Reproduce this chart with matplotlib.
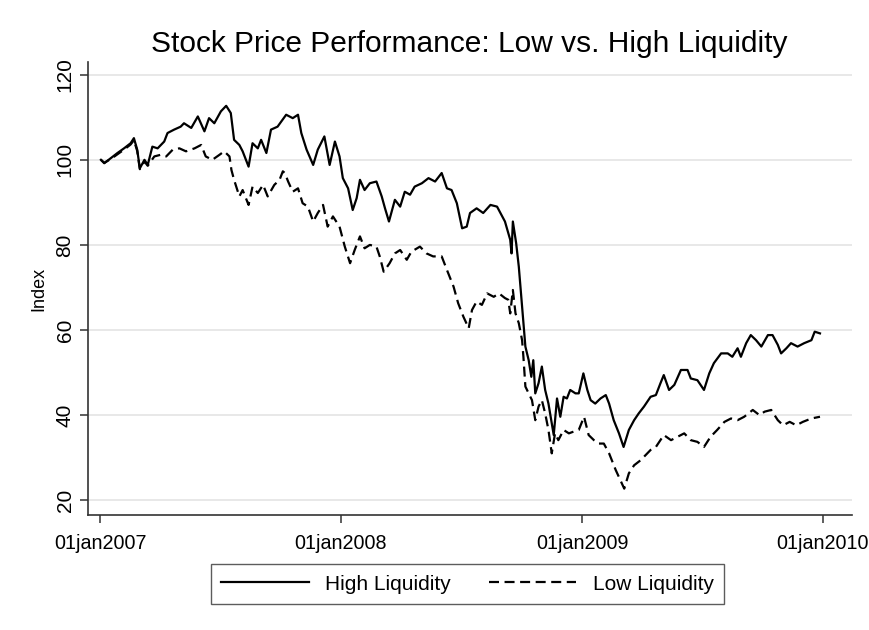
import pandas as pd
import matplotlib.pyplot as plt

plt.rcParams["font.family"] = ["Liberation Sans", "DejaVu Sans"]

high_dates = [
    "2007-01-02", "2007-01-07", "2007-01-17", "2007-01-27", "2007-02-06", "2007-02-16", "2007-02-21",
    "2007-02-26", "2007-03-02", "2007-03-09", "2007-03-14", "2007-03-21", "2007-03-29", "2007-04-08",
    "2007-04-13", "2007-04-23", "2007-05-03", "2007-05-08", "2007-05-19", "2007-05-29", "2007-06-08",
    "2007-06-15", "2007-06-23", "2007-07-03", "2007-07-11", "2007-07-18", "2007-07-23", "2007-07-31",
    "2007-08-05", "2007-08-14", "2007-08-20", "2007-08-28", "2007-09-02", "2007-09-10", "2007-09-17",
    "2007-09-27",
    "2007-10-10", "2007-10-20", "2007-10-28", "2007-11-02", "2007-11-10", "2007-11-20", "2007-11-27",
    "2007-12-07", "2007-12-15", "2007-12-23", "2007-12-30", "2008-01-04", "2008-01-12", "2008-01-19",
    "2008-01-25", "2008-01-30", "2008-02-06", "2008-02-14", "2008-02-24", "2008-03-03", "2008-03-08",
    "2008-03-14", "2008-03-23", "2008-03-31", "2008-04-07", "2008-04-15", "2008-04-22", "2008-05-03",
    "2008-05-13", "2008-05-23", "2008-06-02", "2008-06-10", "2008-06-17", "2008-06-25", "2008-07-03",
    "2008-07-10", "2008-07-15", "2008-07-25", "2008-08-04", "2008-08-15", "2008-08-25",
    "2008-09-06", "2008-09-14", "2008-09-16", "2008-09-18", "2008-09-23", "2008-09-27", "2008-10-02",
    "2008-10-07", "2008-10-12", "2008-10-16", "2008-10-19", "2008-10-22", "2008-10-27", "2008-11-01",
    "2008-11-06", "2008-11-11", "2008-11-16", "2008-11-19", "2008-11-24", "2008-11-29", "2008-12-04",
    "2008-12-09", "2008-12-14", "2008-12-22", "2008-12-27", "2009-01-03", "2009-01-09", "2009-01-14",
    "2009-01-21", "2009-01-29", "2009-02-06", "2009-02-11", "2009-02-18", "2009-02-26", "2009-03-05",
    "2009-03-13", "2009-03-21", "2009-03-28", "2009-04-05", "2009-04-15",
    "2009-04-23", "2009-04-30", "2009-05-05", "2009-05-13", "2009-05-21", "2009-05-31", "2009-06-10",
    "2009-06-15", "2009-06-25", "2009-07-05", "2009-07-13", "2009-07-20", "2009-07-31", "2009-08-10",
    "2009-08-17", "2009-08-25", "2009-08-30", "2009-09-07", "2009-09-14", "2009-09-22", "2009-09-30",
    "2009-10-10", "2009-10-17", "2009-10-25", "2009-10-30", "2009-11-07", "2009-11-14", "2009-11-24",
    "2009-12-04", "2009-12-15", "2009-12-20", "2009-12-28",
]
high_liq = [
    100, 99.2, 100.4, 101.6, 102.7, 103.9, 105.1,
    102.4, 98, 100, 98.8, 103.1, 102.7, 104.3,
    106.3, 107.1, 107.8, 108.6, 107.5, 110.2, 106.7,
    109.8, 108.6, 111.4, 112.7, 111, 104.7, 103.5,
    102, 98.4, 103.9, 102.7, 104.7, 101.6, 107.1,
    107.8,
    110.6, 109.8, 110.6, 106.3, 102.4, 98.8, 102.4,
    105.5, 98.8, 104.3, 100.8, 95.7, 93.3, 88.2,
    91, 95.3, 92.9, 94.5, 94.9, 91.4, 88.6,
    85.5, 90.6, 89, 92.5, 91.8, 93.7, 94.5,
    95.7, 94.9, 96.9, 93.3, 92.9, 89.8, 83.9,
    84.3, 87.5, 88.6, 87.5, 89.4, 89,
    85.5, 81.2, 78, 85.5, 80.4, 74.9, 65.5,
    56.1, 52.9, 49, 52.9, 45.1, 47.5, 51.4,
    45.9, 42.7, 38, 35.3, 43.9, 39.6, 44.3,
    43.9, 45.9, 45.1, 45.1, 49.8, 45.9, 43.5,
    42.7, 43.9, 44.7, 42.7, 38.8, 35.7, 32.5,
    36.5, 38.8, 40.4, 42, 44.3,
    44.7, 47.5, 49.4, 45.9, 47.1, 50.6, 50.6,
    48.6, 48.2, 45.9, 49.8, 52.2, 54.5, 54.5,
    53.7, 55.7, 53.7, 56.9, 58.8, 57.6, 56.1,
    58.8, 58.8, 56.5, 54.5, 55.7, 56.9, 56.1,
    56.9, 57.6, 59.6, 59.2,
]

low_dates = [
    "2007-01-02", "2007-01-07", "2007-01-17", "2007-01-27", "2007-02-06", "2007-02-16", "2007-02-21",
    "2007-02-26", "2007-03-02", "2007-03-09", "2007-03-14",
    "2007-03-24", "2007-04-03", "2007-04-11", "2007-04-21", "2007-05-01", "2007-05-11", "2007-05-24",
    "2007-06-03", "2007-06-10", "2007-06-20", "2007-07-01", "2007-07-08", "2007-07-16", "2007-07-19",
    "2007-07-23", "2007-07-31", "2007-08-05", "2007-08-14", "2007-08-20", "2007-08-28", "2007-09-05",
    "2007-09-12", "2007-09-22", "2007-09-30", "2007-10-05",
    "2007-10-08", "2007-10-13", "2007-10-20", "2007-10-28", "2007-11-04", "2007-11-12", "2007-11-20",
    "2007-11-27", "2007-12-05", "2007-12-12", "2007-12-20", "2007-12-30", "2008-01-07", "2008-01-15",
    "2008-01-22", "2008-01-30", "2008-02-06", "2008-02-14", "2008-02-24", "2008-02-29", "2008-03-06",
    "2008-03-15", "2008-03-23", "2008-03-31", "2008-04-10", "2008-04-17", "2008-04-30", "2008-05-10",
    "2008-05-20", "2008-06-02", "2008-06-10", "2008-06-20", "2008-06-27", "2008-07-05", "2008-07-13",
    "2008-07-18", "2008-07-25", "2008-08-02", "2008-08-10", "2008-08-20", "2008-08-28",
    "2008-09-06", "2008-09-11", "2008-09-14", "2008-09-18", "2008-09-22", "2008-09-27", "2008-10-02",
    "2008-10-04", "2008-10-07", "2008-10-12", "2008-10-17", "2008-10-22", "2008-10-27", "2008-11-01",
    "2008-11-06", "2008-11-11", "2008-11-16", "2008-11-21", "2008-11-26", "2008-12-04", "2008-12-12",
    "2008-12-19", "2008-12-27", "2009-01-04", "2009-01-11", "2009-01-19", "2009-01-26", "2009-02-03",
    "2009-02-11", "2009-02-21", "2009-02-28", "2009-03-06", "2009-03-13", "2009-03-21", "2009-03-31",
    "2009-04-15", "2009-04-23", "2009-05-05", "2009-05-16", "2009-05-26", "2009-06-05", "2009-06-15",
    "2009-06-25", "2009-07-05", "2009-07-15", "2009-07-25", "2009-08-05", "2009-08-15", "2009-08-25",
    "2009-09-04", "2009-09-17", "2009-09-27", "2009-10-05", "2009-10-15", "2009-10-25", "2009-11-02",
    "2009-11-12", "2009-11-22", "2009-12-02", "2009-12-15", "2009-12-28",
]
low_liq = [
    100, 99.3, 100.2, 101.3, 102.4, 103.6, 104.6,
    102.1, 97.8, 99.6, 98.6,
    100.8, 101.2, 100.8, 102.4, 102.7, 102, 102.7,
    103.5, 100.8, 100, 101.2, 102, 100.8, 97.6,
    95.3, 91.4, 92.9, 89.4, 93.7, 92.2, 94.1,
    91.4, 94.1, 95.3, 97.3,
    96.9, 94.9, 92.5, 93.3, 89.8, 89, 85.5,
    87.5, 89.4, 84.3, 86.7, 84.3, 79.6, 75.7,
    78.8, 82, 79.2, 80, 79.6, 77.3, 73.7,
    75.7, 78, 78.8, 76.5, 78.4, 79.6, 78,
    77.3, 77.3, 74.1, 70.2, 66.3, 63.1, 60.4,
    64.7, 66.7, 65.9, 68.6, 67.8, 68.6,
    67.5, 67.1, 63.9, 69.4, 63.9, 61.6, 57.6,
    53.7, 46.7, 45.1, 43.5, 38.8, 42, 43.5,
    40.4, 36.5, 31, 35.7, 34.1, 36.5, 35.7,
    36.1, 36.5, 39.6, 35.3, 34.1, 33.3, 33.3,
    31, 27.1, 24.7, 22.7, 26.3, 28.2, 29.4,
    31.8, 32.5, 35.3, 34.1, 34.9, 35.7, 34.1,
    33.7, 32.5, 34.9, 36.5, 38.4, 39.2, 38.8,
    39.6, 41.2, 40, 40.8, 41.2, 38.8, 37.6,
    38.4, 37.6, 38.4, 39.2, 39.6,
]

tick_dates = ["2007-01-01", "2008-01-01", "2009-01-01", "2010-01-01"]
y_ticks = [20, 40, 60, 80, 100, 120]

high = pd.Series(high_liq, index=pd.to_datetime(high_dates))
low = pd.Series(low_liq, index=pd.to_datetime(low_dates))

fig = plt.figure(figsize=(8.69, 6.3), dpi=100, facecolor="white")
ax = fig.add_axes([0.101, 0.1825, 0.879, 0.7191])

ax.plot(high.index, high.values, color="black", lw=1.6, label="High Liquidity")
ax.plot(low.index, low.values, color="black", lw=1.6, linestyle=(0, (4.5, 2.5)), label="Low Liquidity")

ax.set_ylim(16.5, 123)
ax.set_xlim(pd.Timestamp("2006-12-13"), pd.Timestamp("2010-02-14"))
ax.set_yticks(y_ticks)
ax.set_xticks(pd.to_datetime(tick_dates))
ax.set_xticklabels([pd.Timestamp(d).strftime("%d%b%Y").lower() for d in tick_dates])
for lbl in ax.get_yticklabels():
    lbl.set_rotation(90)
    lbl.set_va("center")

ax.grid(axis="y", color="#e4e4e4", lw=1.2)
ax.set_axisbelow(True)
for s in ["top", "right"]:
    ax.spines[s].set_visible(False)
for s in ["left", "bottom"]:
    ax.spines[s].set_color("#333333")
    ax.spines[s].set_linewidth(1.2)
ax.tick_params(axis="both", direction="out", length=6, width=1.1, color="#333333",
               labelsize=15, labelcolor="black")
ax.tick_params(axis="x", pad=8, labelsize=14.2)

ax.set_ylabel("Index", fontsize=13, labelpad=6)
ax.set_title("Stock Price Performance: Low vs. High Liquidity", fontsize=21.5, pad=7)

leg = fig.legend(loc="center", bbox_to_anchor=(0.538, 0.073), ncol=2, fontsize=15,
                 handlelength=4.2, columnspacing=1.8, frameon=True, fancybox=False,
                 borderpad=0.5, borderaxespad=0)
leg.get_frame().set_edgecolor("#333333")
leg.get_frame().set_linewidth(1.0)

plt.savefig("out.png", dpi=100, facecolor="white")
